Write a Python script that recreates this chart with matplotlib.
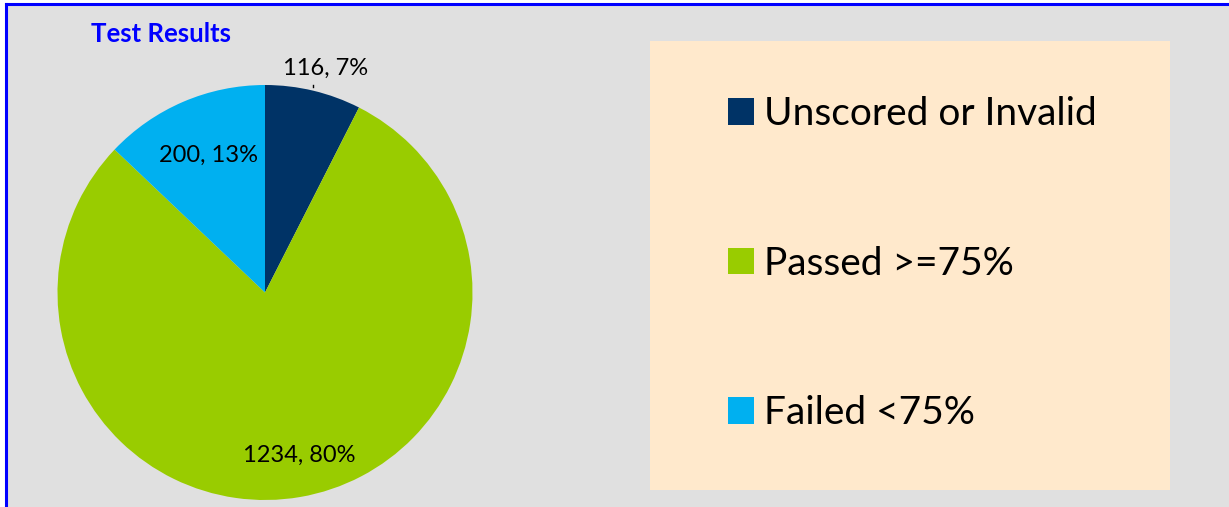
import matplotlib
matplotlib.use('Agg')
import matplotlib.pyplot as plt
from matplotlib.patches import Rectangle
from matplotlib.lines import Line2D

plt.rcParams['font.family'] = ['Lato', 'DejaVu Sans']

# data
categories = ['Unscored or Invalid', 'Passed >=75%', 'Failed <75%']
counts = [116, 1234, 200]
colors = ['#003366', '#99CC00', '#00B0F0']
title = 'Test Results'

W, H = 1229, 507
fig = plt.figure(figsize=(W / 100, H / 100), dpi=100)
fig.patch.set_facecolor('white')

# grey chart area with blue frame (top and left)
fig.patches.append(Rectangle((6 / W, 0), 1 - 6 / W, 1 - 4 / H, transform=fig.transFigure,
                             facecolor='#E0E0E0', edgecolor='none', zorder=-3))
fig.lines.append(Line2D([6 / W, 1], [1 - 4 / H, 1 - 4 / H], transform=fig.transFigure,
                        color='#0000FF', lw=2.2, zorder=-2))
fig.lines.append(Line2D([6 / W, 6 / W], [0, 1 - 4 / H], transform=fig.transFigure,
                        color='#0000FF', lw=2.2, zorder=-2))

# beige legend box
fig.patches.append(Rectangle((650 / W, 1 - 490 / H), 520 / W, 449 / H, transform=fig.transFigure,
                             facecolor='#FFE9CC', edgecolor='none', zorder=-1))

fig.text(91 / W, 1 - 34 / H, title, color='#0000FF', fontsize=18.5, fontweight='bold',
         va='center', ha='left')

# pie
cx, cy, r = 265, 292.5, 207.5
ax = fig.add_axes([(cx - r) / W, (H - cy - r) / H, 2 * r / W, 2 * r / H])
wedges, _ = ax.pie(counts, colors=colors, startangle=90, counterclock=False, radius=1)
ax.set_xlim(-1, 1)
ax.set_ylim(-1, 1)
ax.set_aspect('equal')
ax.axis('off')

total = sum(counts)
label_pos = [(0.29, 1.082), (0.164, -0.783), (-0.27, 0.663)]
for n, (x, y) in zip(counts, label_pos):
    ax.text(x, y, f'{n}, {round(100 * n / total)}%', ha='center', va='center',
            fontsize=17, color='black', clip_on=False)
# small leader tick for the top label
ax.plot([0.23, 0.23], [0.99, 1.0], color='black', lw=1, clip_on=False)

leg = fig.legend(wedges, categories, loc='upper left', bbox_to_anchor=(728 / W, 1 - 96 / H),
                 frameon=False, fontsize=28, handlelength=0.67, handleheight=0.67,
                 handletextpad=0.25, labelspacing=2.92, borderpad=0, borderaxespad=0)

fig.savefig('out.png', dpi=100, facecolor='white')
